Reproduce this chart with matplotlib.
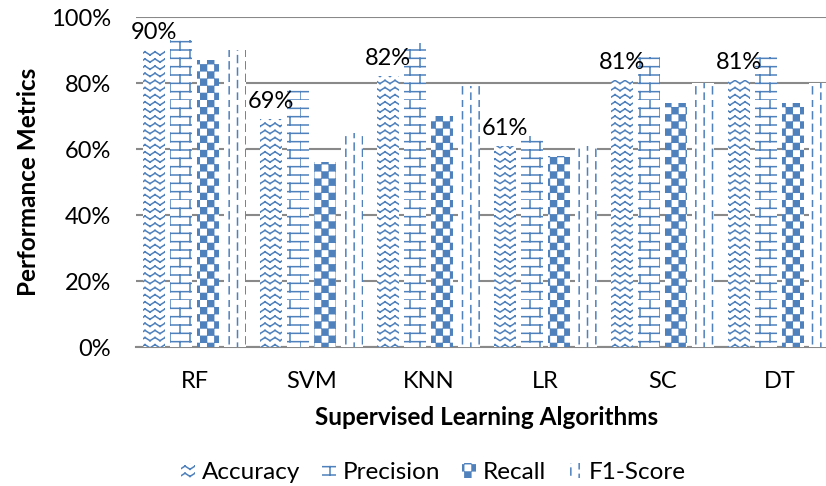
import warnings

import matplotlib

matplotlib.use("Agg")
import matplotlib.pyplot as plt
import numpy as np
from matplotlib import hatch as mhatch
from matplotlib.path import Path

warnings.filterwarnings("ignore", category=matplotlib.MatplotlibDeprecationWarning)

algorithms = ["RF", "SVM", "KNN", "LR", "SC", "DT"]
accuracy = [90, 69, 82, 61, 81, 81]
precision = [93, 78, 92, 64, 88, 88]
recall = [87, 56, 70, 58, 74, 74]
f1_score = [90, 65, 79, 61, 80, 80]

BLUE = "#4F81BD"


# Excel-like pattern fills, registered as extra hatch characters
class WaveHatch(mhatch.HatchPatternBase):
    rows, cols = 14, 10

    def __init__(self, hatch, density):
        self.num_vertices = self.rows * self.cols * 4 if "w" in hatch else 0

    def set_vertices_and_codes(self, vertices, codes):
        i = 0
        for r in range(self.rows):
            y = (r + 0.3) / self.rows
            yp = y + 0.45 / self.rows
            for c in range(self.cols):
                x0, x1, x2 = c / self.cols, (c + 0.5) / self.cols, (c + 1) / self.cols
                vertices[i:i + 4] = [(x0, y), (x1, yp), (x1, yp), (x2, y)]
                codes[i:i + 4] = [Path.MOVETO, Path.LINETO, Path.MOVETO, Path.LINETO]
                i += 4


class BrickHatch(mhatch.HatchPatternBase):
    rows, cols = 12, 5

    def __init__(self, hatch, density):
        self.num_vertices = (self.rows * 2 + self.rows * self.cols * 2) if "b" in hatch else 0

    def set_vertices_and_codes(self, vertices, codes):
        i = 0
        for r in range(self.rows):
            y = r / self.rows
            vertices[i:i + 2] = [(0.0, y), (1.0, y)]
            codes[i:i + 2] = [Path.MOVETO, Path.LINETO]
            i += 2
            for c in range(self.cols):
                x = (c + 0.5 * (r % 2)) / self.cols
                vertices[i:i + 2] = [(x, y), (x, (r + 1) / self.rows)]
                codes[i:i + 2] = [Path.MOVETO, Path.LINETO]
                i += 2


class CheckerHatch(mhatch.HatchPatternBase):
    n = 14
    shrink = 0.006

    def __init__(self, hatch, density):
        self.num_vertices = (self.n * self.n // 2) * 5 if "k" in hatch else 0

    def set_vertices_and_codes(self, vertices, codes):
        i = 0
        s = 1.0 / self.n
        d = self.shrink
        for r in range(self.n):
            for c in range(self.n):
                if (r + c) % 2:
                    continue
                x, y = c * s, r * s
                vertices[i:i + 5] = [(x + d, y + d), (x + s - d, y + d), (x + s - d, y + s - d),
                                     (x + d, y + s - d), (x + d, y + d)]
                codes[i:i + 5] = [Path.MOVETO, Path.LINETO, Path.LINETO, Path.LINETO, Path.CLOSEPOLY]
                i += 5


class DashHatch(mhatch.HatchPatternBase):
    cols, dashes = 12, 8

    def __init__(self, hatch, density):
        self.num_vertices = self.cols * self.dashes * 2 if "d" in hatch else 0

    def set_vertices_and_codes(self, vertices, codes):
        i = 0
        for c in range(self.cols):
            x = (c + 0.5) / self.cols
            off = 0.5 * (c % 2)
            for k in range(self.dashes):
                y0 = (k + off) / self.dashes
                y1 = min(y0 + 0.55 / self.dashes, 1.0)
                vertices[i:i + 2] = [(x, y0), (x, y1)]
                codes[i:i + 2] = [Path.MOVETO, Path.LINETO]
                i += 2


mhatch._hatch_types.extend([WaveHatch, BrickHatch, CheckerHatch, DashHatch])

plt.rcParams["font.family"] = ["Lato", "DejaVu Sans"]
plt.rcParams["hatch.linewidth"] = 1.1

fig = plt.figure(figsize=(8.26, 4.86), dpi=100)
ax = fig.add_axes([0.1646, 0.286, 0.85, 0.679])

x = np.arange(len(algorithms))
step, width = 0.23, 0.19
series = [("Accuracy", accuracy, "w"), ("Precision", precision, "b"),
          ("Recall", recall, "k"), ("F1-Score", f1_score, "d")]

for j, (name, vals, pat) in enumerate(series):
    bars = ax.bar(x + (j - 1.5) * step, vals, width, facecolor="white",
                  edgecolor=BLUE, linewidth=0, hatch=pat, label=name, zorder=3)
    if name == "Accuracy":
        for b, v in zip(bars, vals):
            ax.annotate(f"{v}%", (b.get_x() + b.get_width() / 2, v),
                        xytext=(0, 5), textcoords="offset points",
                        ha="center", va="bottom", fontsize=17, zorder=4)

ax.set_xlim(-0.5, len(algorithms) - 0.5)
ax.set_ylim(0, 100)
ax.set_yticks(range(0, 101, 20))
ax.set_yticklabels([f"{v}%" for v in range(0, 101, 20)])
ax.set_xticks(x)
ax.set_xticklabels(algorithms)
ax.tick_params(length=0, labelsize=17)
ax.tick_params(axis="x", pad=17.5)
ax.tick_params(axis="y", pad=18)
ax.yaxis.grid(True, color="#898989", linewidth=1.5, zorder=0)
for side in ("left", "right", "top"):
    ax.spines[side].set_visible(False)
ax.spines["bottom"].set_color("#898989")
ax.spines["bottom"].set_linewidth(1.5)

ax.set_ylabel("Performance Metrics", fontsize=17.5, fontweight="bold", labelpad=8)
ax.set_xlabel("Supervised Learning Algorithms", fontsize=17.5, fontweight="bold", labelpad=10)

fig.legend(loc="center", bbox_to_anchor=(0.525, 0.027), ncol=4, frameon=False,
           fontsize=17.5, handlelength=0.55, handleheight=0.55, handletextpad=0.3,
           columnspacing=0.9)

fig.savefig("out.png", dpi=100)
